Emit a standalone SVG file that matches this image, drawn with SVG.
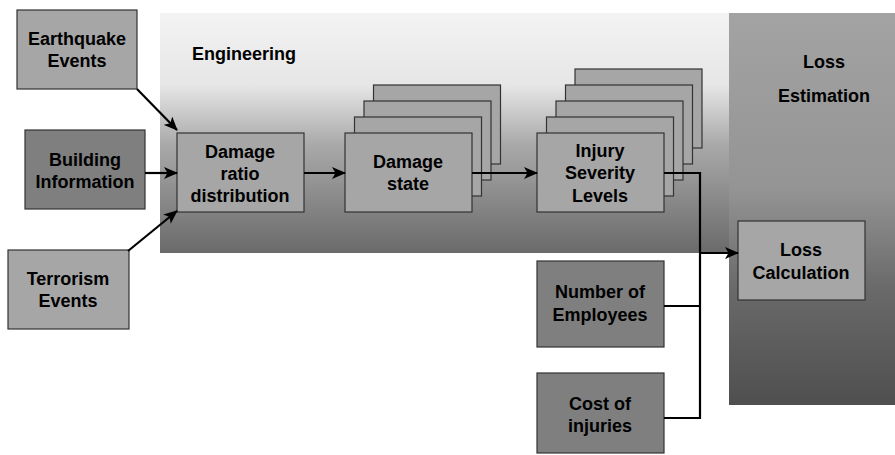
<svg xmlns="http://www.w3.org/2000/svg" width="895" height="455" viewBox="0 0 895 455">
  <defs>
    <linearGradient id="engGrad" x1="0" y1="0" x2="0" y2="1">
      <stop offset="0" stop-color="#f3f3f3"/>
      <stop offset="0.3" stop-color="#e6e6e6"/>
      <stop offset="0.55" stop-color="#a9a9a9"/>
      <stop offset="1" stop-color="#6a6a6a"/>
    </linearGradient>
    <linearGradient id="lossGrad" x1="0" y1="0" x2="0" y2="1">
      <stop offset="0" stop-color="#a3a3a3"/>
      <stop offset="0.45" stop-color="#949494"/>
      <stop offset="0.7" stop-color="#6a6a6a"/>
      <stop offset="1" stop-color="#4f4f4f"/>
    </linearGradient>
    <marker id="arrow" viewBox="0 0 14 12" refX="13" refY="6" markerWidth="14" markerHeight="12" markerUnits="userSpaceOnUse" orient="auto">
      <path d="M0,0 L14,6 L0,12 L3.5,6 z" fill="#000"/>
    </marker>
  </defs>
  <style>
    .box { stroke: #333; stroke-width: 1.2; }
    .light { fill: #a6a6a6; }
    .dark { fill: #7f7f7f; }
    .lbl { font-family: "Liberation Sans", Arial, sans-serif; font-weight: bold; font-size: 18px; fill: #000; text-anchor: middle; }
    .title { font-family: "Liberation Sans", Arial, sans-serif; font-weight: bold; font-size: 18px; fill: #000; }
    .wire { fill: none; stroke: #000; stroke-width: 2.2; }
  </style>

  <rect width="895" height="455" fill="#fff"/>

  <!-- background panels -->
  <g id="engineering-panel">
    <rect x="160" y="13" width="569" height="240" fill="url(#engGrad)"/>
    <text class="title" x="192" y="60">Engineering</text>
  </g>
  <g id="loss-estimation-panel">
    <rect x="729" y="13" width="166" height="392" fill="url(#lossGrad)"/>
    <text class="lbl" x="824" y="68">Loss</text>
    <text class="lbl" x="824" y="102">Estimation</text>
  </g>

  <!-- inputs -->
  <g id="earthquake-events">
    <rect class="box light" x="17" y="10" width="120" height="79"/>
    <text class="lbl" x="77" y="45">Earthquake</text>
    <text class="lbl" x="77" y="67">Events</text>
  </g>
  <g id="building-information">
    <rect class="box dark" x="25" y="130" width="120" height="79"/>
    <text class="lbl" x="85" y="166">Building</text>
    <text class="lbl" x="85" y="188">Information</text>
  </g>
  <g id="terrorism-events">
    <rect class="box light" x="8" y="250" width="121" height="79"/>
    <text class="lbl" x="68" y="285">Terrorism</text>
    <text class="lbl" x="68" y="307">Events</text>
  </g>

  <!-- engineering chain -->
  <g id="damage-ratio-distribution">
    <rect class="box light" x="177" y="133" width="127" height="79"/>
    <text class="lbl" x="240" y="158">Damage</text>
    <text class="lbl" x="240" y="180">ratio</text>
    <text class="lbl" x="240" y="202">distribution</text>
  </g>
  <g id="damage-state">
    <rect class="box light" x="373.5" y="85" width="127" height="79"/>
    <rect class="box light" x="364" y="101" width="127" height="79"/>
    <rect class="box light" x="354.5" y="117" width="127" height="79"/>
    <rect class="box light" x="345" y="133" width="127" height="79"/>
    <text class="lbl" x="408" y="168">Damage</text>
    <text class="lbl" x="408" y="190">state</text>
  </g>
  <g id="injury-severity-levels">
    <rect class="box light" x="575" y="69" width="127" height="79"/>
    <rect class="box light" x="565.5" y="85" width="127" height="79"/>
    <rect class="box light" x="556" y="101" width="127" height="79"/>
    <rect class="box light" x="546.5" y="117" width="127" height="79"/>
    <rect class="box light" x="537" y="133" width="127" height="79"/>
    <text class="lbl" x="600" y="157">Injury</text>
    <text class="lbl" x="600" y="179">Severity</text>
    <text class="lbl" x="600" y="202">Levels</text>
  </g>

  <!-- loss side -->
  <g id="loss-calculation">
    <rect class="box light" x="738" y="221" width="127" height="79"/>
    <text class="lbl" x="801" y="256">Loss</text>
    <text class="lbl" x="801" y="279">Calculation</text>
  </g>
  <g id="number-of-employees">
    <rect class="box dark" x="537" y="261" width="127" height="86"/>
    <text class="lbl" x="600" y="298">Number of</text>
    <text class="lbl" x="600" y="321">Employees</text>
  </g>
  <g id="cost-of-injuries">
    <rect class="box dark" x="537" y="373" width="127" height="80"/>
    <text class="lbl" x="600" y="410">Cost of</text>
    <text class="lbl" x="600" y="432">injuries</text>
  </g>

  <!-- connectors -->
  <g id="connectors">
    <line class="wire" x1="137" y1="89" x2="177" y2="130" marker-end="url(#arrow)"/>
    <line class="wire" x1="145" y1="173" x2="177" y2="173" marker-end="url(#arrow)"/>
    <line class="wire" x1="128" y1="251" x2="177" y2="211" marker-end="url(#arrow)"/>
    <line class="wire" x1="304" y1="173" x2="345" y2="173" marker-end="url(#arrow)"/>
    <line class="wire" x1="472" y1="173" x2="537" y2="173" marker-end="url(#arrow)"/>
    <polyline class="wire" points="664,173 700,173 700,418 664,418"/>
    <line class="wire" x1="664" y1="306" x2="700" y2="306"/>
    <line class="wire" x1="700" y1="253" x2="738" y2="253" marker-end="url(#arrow)"/>
  </g>
</svg>
